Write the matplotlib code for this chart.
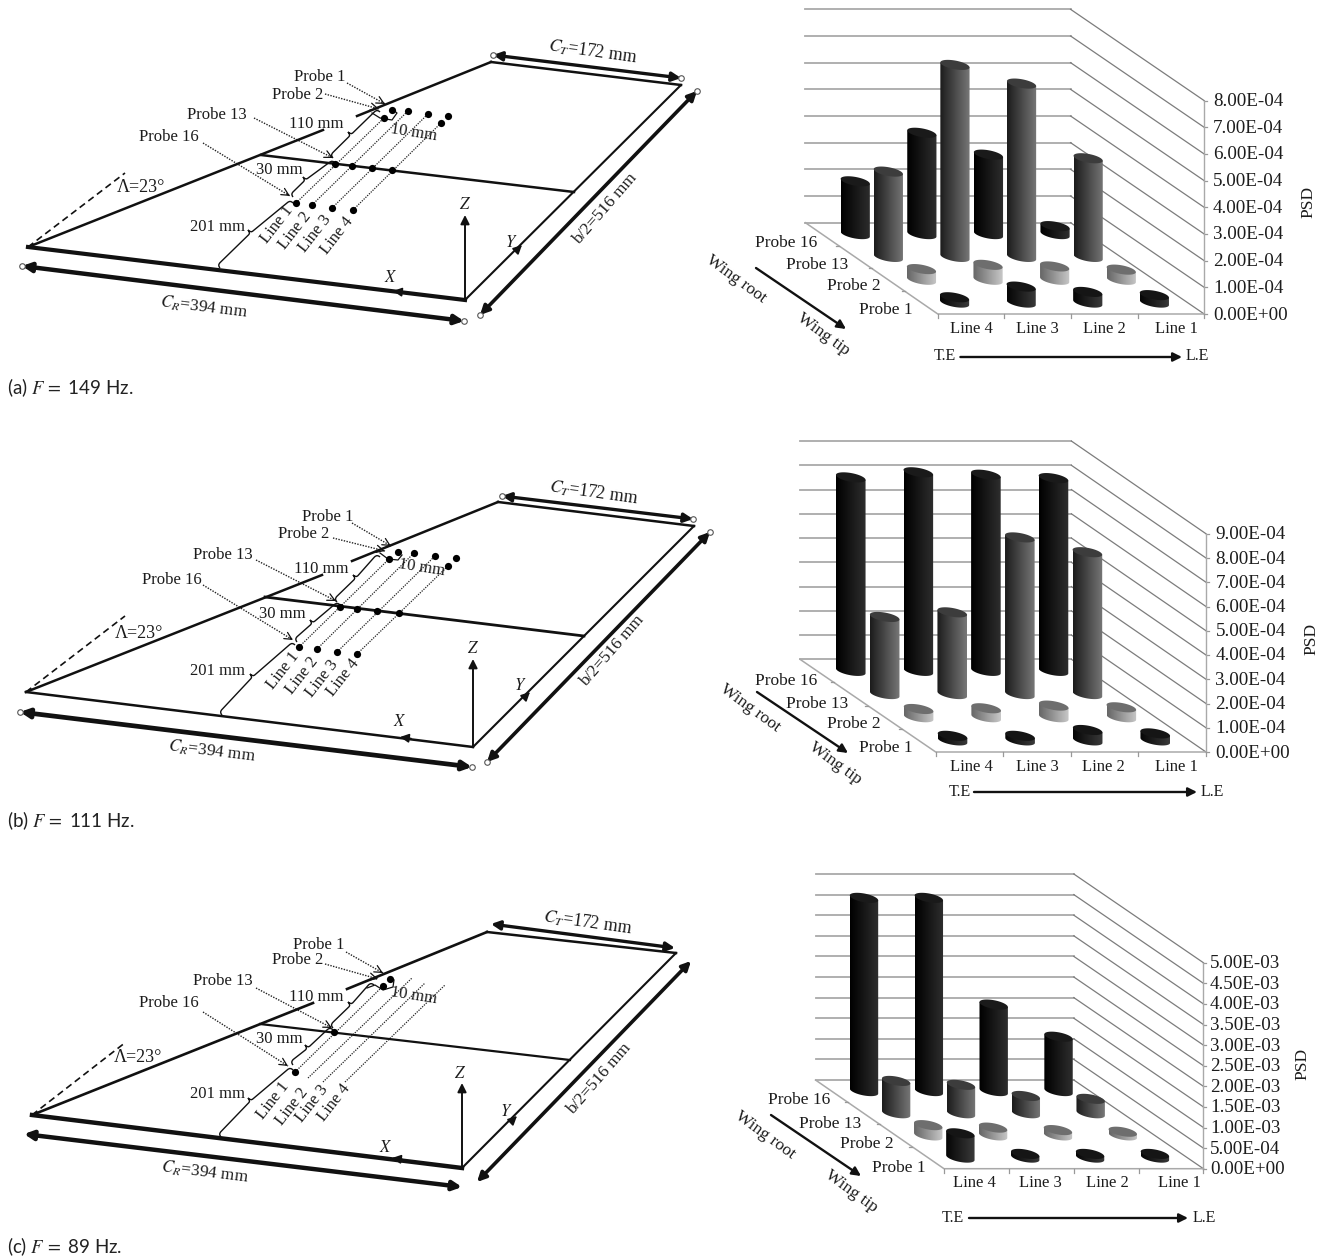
import numpy as np
import matplotlib
matplotlib.use("Agg")
import matplotlib.pyplot as plt
from matplotlib.colors import LinearSegmentedColormap
from matplotlib.patches import Polygon, PathPatch
from matplotlib.path import Path

plt.rcParams['font.family'] = ['Liberation Serif', 'DejaVu Serif']
plt.rcParams['mathtext.fontset'] = 'stix'

# ---------- data ----------
LINE_LABELS = ['Line 4', 'Line 3', 'Line 2', 'Line 1']
PROBE_LABELS = ['Probe 1', 'Probe 2', 'Probe 13', 'Probe 16']

# PSD per probe row; entries follow LINE_LABELS
A_PROBE1 = [2.0e-5, 6.0e-5, 4.0e-5, 2.8e-5]
A_PROBE2 = [4.0e-5, 5.6e-5, 5.0e-5, 3.8e-5]
A_PROBE13 = [3.2e-4, 7.2e-4, 6.5e-4, 3.7e-4]
A_PROBE16 = [1.98e-4, 3.8e-4, 2.98e-4, 3.0e-5]

B_PROBE1 = [1.9e-5, 1.9e-5, 4.3e-5, 2.9e-5]
B_PROBE2 = [3.4e-5, 3.7e-5, 4.8e-5, 4.1e-5]
B_PROBE13 = [3.18e-4, 3.37e-4, 6.46e-4, 5.85e-4]
B_PROBE16 = [7.98e-4, 8.19e-4, 8.09e-4, 7.95e-4]

C_PROBE1 = [5.9e-4, 9.0e-5, 9.0e-5, 9.0e-5]
C_PROBE2 = [2.5e-4, 1.9e-4, 1.3e-4, 9.0e-5]
C_PROBE13 = [7.85e-4, 6.9e-4, 4.2e-4, 3.5e-4]
C_PROBE16 = [4.69e-3, 4.69e-3, 2.1e-3, 1.32e-3]

A_TICKS = ['0.00E+00', '1.00E-04', '2.00E-04', '3.00E-04', '4.00E-04',
           '5.00E-04', '6.00E-04', '7.00E-04', '8.00E-04']
B_TICKS = A_TICKS + ['9.00E-04']
C_TICKS = ['0.00E+00', '5.00E-04', '1.00E-03', '1.50E-03', '2.00E-03', '2.50E-03',
           '3.00E-03', '3.50E-03', '4.00E-03', '4.50E-03', '5.00E-03']

CAPTIONS = [r'(a) $F\,=$ 149 Hz.', r'(b) $F\,=$ 111 Hz.', r'(c) $F\,=$ 89 Hz.']

# ---------- layout of the bar panels (pixels) ----------
BAR_PANELS = [
    dict(vals=[A_PROBE1, A_PROBE2, A_PROBE13, A_PROBE16], ticks=A_TICKS, unit=1e-4,
         FL=(937.8, 314), FR=(1204.2, 314), BL=(805.4, 222.7), BR=(1070.6, 222.7), step=26.67, hw=14.6,
         ticklab_x=1213, probes=[(885.5, 308.7), (854, 285), (817, 264), (786, 241.7)],
         lines_y=328, lines_x=[971.4, 1037, 1104, 1176],
         wing_arrow=((756, 268), (846, 329)), root=(736.6, 278), tip=(823, 333),
         te=(945, 355), le=(1197, 355), te_arrow=((960.4, 357), (1182, 357)), psd=(1308, 201)),
    dict(vals=[B_PROBE1, B_PROBE2, B_PROBE13, B_PROBE16], ticks=B_TICKS, unit=1e-4,
         FL=(935.7, 752), FR=(1206, 752), BL=(800, 659.3), BR=(1071.4, 659.3), step=24.25, hw=14.8,
         ticklab_x=1215.5, probes=[(885.5, 746.7), (854, 723), (817, 702.7), (786, 680)],
         lines_y=766, lines_x=[971, 1037, 1103.7, 1176],
         wing_arrow=((757, 692), (848, 753)), root=(750, 707), tip=(835, 762),
         te=(960, 791), le=(1212, 791), te_arrow=((974, 792), (1197, 792)), psd=(1311, 638)),
    dict(vals=[C_PROBE1, C_PROBE2, C_PROBE13, C_PROBE16], ticks=C_TICKS, unit=5e-4,
         FL=(944, 1168.7), FR=(1203.4, 1168.7), BL=(815.5, 1080), BR=(1073.8, 1080), step=20.6, hw=14.2,
         ticklab_x=1210, probes=[(898.5, 1166.7), (867, 1143.3), (830, 1122.7), (799, 1099)],
         lines_y=1182, lines_x=[974, 1040, 1107, 1179],
         wing_arrow=((771, 1115), (861, 1176)), root=(765, 1134), tip=(851, 1190),
         te=(953, 1217), le=(1204, 1217), te_arrow=((969, 1218), (1188, 1218)), psd=(1302.5, 1063)),
]

ROW_STYLES = [('#050505', '#3a3a3a', '#151515'),
              ('#666666', '#c8c8c8', '#6e6e6e'),
              ('#1c1c1c', '#777777', '#3c3c3c'),
              ('#000000', '#2e2e2e', '#1a1a1a')]

# ---------- layout of the wing schematics (pixels) ----------
WING_PANELS = [
    dict(A=(28, 247), B=(465, 300), C=(491, 62), D=(681, 85), E=(261, 155), F=(574, 192),
         gap=((323, 130), (357, 116)), dash=(125, 173), cr=((22, 266), (464, 321)), ct=((493, 55), (681, 78)),
         bh=((480, 315), (697, 91)), circles=True, yh=(522, 245), yt=(511, 242), xh=(393, 291), xt=(391, 277),
         zh=(465, 215), zt=(465, 204), ctl=(593, 51), crl=(204, 306), bl=(605, 208),
         p=[(320, 76), (298, 94), (217, 114), (169, 136)], d110=(316, 123), d30=(279, 169), d201=(218, 226),
         lam=(141, 187), d10=(414, 132),
         ln=[(277, 224), (295, 230), (315, 233), (337, 235)],
         dots=[(296, 203), (312, 205), (332, 208), (353, 210), (335, 164), (352, 166), (372, 168), (392, 170),
               (384, 118), (441, 123), (392, 110), (408, 111), (428, 114), (448, 116)],
         dotted=[((296, 203), (384, 118)), ((312, 205), (408, 111)), ((332, 208), (428, 114)), ((353, 210), (441, 123))],
         lead=[((347, 83), (385, 104)), ((325, 94), (379, 109)), ((254, 118), (333, 158)), ((203, 143), (290, 196))],
         br=[((220, 268), (248, 230), (293, 203)), ((293, 197), (303, 177), (335, 163)), ((333, 158), (348, 132), (380, 112))],
         small=[(372, 113), (380, 118), (392, 120), (397, 113), (392, 109)],
         lw_root=3.0, lw_cr=3.2, lw_mid=1.8, lw_le=1.8),
    dict(A=(26, 692), B=(473, 747), C=(498, 502), D=(694, 526), E=(265, 597), F=(584, 636),
         gap=((322, 575), (352, 561)), dash=(125, 616), cr=((20, 712), (472, 767)), ct=((502, 496), (693, 519)),
         bh=((487, 762), (710, 532)), circles=True, yh=(530, 692), yt=(520, 685), xh=(400, 737), xt=(400, 721),
         zh=(473, 659), zt=(473, 648), ctl=(594, 492), crl=(212, 750), bl=(612, 650),
         p=[(328, 516), (304, 533), (223, 554), (172, 579)], d110=(321, 568), d30=(282, 613), d201=(218, 670),
         lam=(139, 632), d10=(422, 567),
         ln=[(283, 670), (302, 675), (322, 678), (343, 677)],
         dots=[(299, 647), (317, 649), (337, 652), (357, 654), (340, 607), (357, 609), (377, 611), (399, 613),
               (389, 559), (448, 566), (398, 552), (414, 553), (435, 556), (456, 558)],
         dotted=[((299, 647), (389, 559)), ((317, 649), (414, 553)), ((337, 652), (435, 556)), ((357, 654), (448, 566))],
         lead=[((352, 523), (391, 546)), ((333, 538), (385, 551)), ((256, 560), (336, 601)), ((203, 585), (293, 640))],
         br=[((222, 715), (250, 674), (295, 645)), ((297, 642), (310, 620), (340, 605)), ((337, 602), (353, 575), (380, 557))],
         small=[(380, 553), (388, 559), (398, 560), (402, 555)],
         lw_root=1.8, lw_cr=3.4, lw_mid=2.0, lw_le=1.8),
    dict(A=(32, 1115), B=(462, 1168), C=(487, 932), D=(676, 953), E=(260, 1024), F=(570, 1060),
         gap=((313, 1003), (347, 989)), dash=(126, 1042), cr=((24, 1134), (462, 1187)), ct=((491, 924), (675, 948)),
         bh=((477, 1182), (691, 961)), circles=False, yh=(517, 1116), yt=(506, 1111), xh=(392, 1158), xt=(386, 1147),
         zh=(462, 1083), zt=(460, 1073), ctl=(588, 922), crl=(205, 1171), bl=(599, 1078),
         p=[(319, 944), (298, 959), (223, 980), (169, 1002)], d110=(316, 996), d30=(279, 1038), d201=(218, 1093),
         lam=(138, 1056), d10=(414, 995),
         ln=[(273, 1100), (292, 1106), (312, 1103), (334, 1102)],
         dots=[(295, 1072), (334, 1032), (390, 979), (383, 986)],
         dotted=[((295, 1072), (383, 986)), ((308, 1078), (412, 978)), ((323, 1082), (425, 983)), ((345, 1082), (445, 985))],
         lead=[((346, 952), (383, 973)), ((325, 964), (378, 979)), ((256, 988), (332, 1028)), ((203, 1012), (288, 1066))],
         br=[((221, 1137), (248, 1098), (293, 1070)), ((293, 1065), (305, 1045), (333, 1030)), ((333, 1028), (348, 1002), (374, 985))],
         small=[(367, 988), (375, 985), (383, 990), (393, 987), (394, 980)],
         lw_root=3.2, lw_cr=3.2, lw_mid=1.6, lw_le=1.9),
]
CAPTION_Y = [388, 821, 1247]

# ---------- drawing ----------
fig = plt.figure(figsize=(13.25, 12.6), dpi=100)
ax = fig.add_axes([0, 0, 1, 1])
INK = '#111111'
TXT = '#1c1c1c'


def arrow(p0, p1, style='-|>', lw=1.5, ms=12, z=6):
    ax.annotate('', xy=p1, xytext=p0, zorder=z,
                arrowprops=dict(arrowstyle=style, lw=lw, color=INK, mutation_scale=ms,
                                shrinkA=0, shrinkB=0))


def label(xy, s, size=12, rot=0, ha='center', color=TXT):
    ax.text(xy[0], xy[1] + 1, s, fontsize=size, rotation=rot, ha=ha, va='center',
            rotation_mode='anchor', color=color, zorder=20)


def cylinder(cx, base, top, hw, style, z):
    b, s = 4.4, 2.5
    left, right, top_col = style
    t = np.linspace(np.pi, 0, 40)
    low = np.c_[cx + hw * np.cos(t), base + s * np.cos(t) + b * np.sin(t)]
    body = np.vstack([[(cx - hw, top - s)], low, [(cx + hw, top + s)]])
    cmap = LinearSegmentedColormap.from_list('c', [left, right])
    im = ax.imshow(np.linspace(0, 1, 64)[None, :], extent=(cx - hw, cx + hw, base + 8, top - 8),
                   aspect='auto', cmap=cmap, zorder=z, interpolation='bilinear')
    im.set_clip_path(Polygon(body, closed=True, transform=ax.transData))
    tt = np.linspace(0, 2 * np.pi, 60)
    ell = np.c_[cx + hw * np.cos(tt), top + s * np.cos(tt) + b * np.sin(tt)]
    ax.add_patch(Polygon(ell, closed=True, fc=top_col, ec='none', zorder=z + 0.1))


def bar_panel(cfg):
    FL, FR, BL, BR = (np.array(cfg[k], float) for k in ('FL', 'FR', 'BL', 'BR'))
    step = cfg['step']
    n = len(cfg['ticks'])
    for k in range(n):
        off = np.array([0, -k * step])
        ax.plot([BL[0], BR[0]], [BL[1] + off[1]] * 2, color='#a9a9a9', lw=1.3, zorder=1)
        ax.plot([BR[0], FR[0]], [BR[1] + off[1], FR[1] + off[1]], color='#7c7c7c', lw=0.9, zorder=1)
        ax.plot([FR[0], FR[0] + 3], [FR[1] + off[1]] * 2, color='#999999', lw=0.9, zorder=1)
        label((cfg['ticklab_x'], FR[1] + off[1]), cfg['ticks'][k], size=13.7, ha='left')
    ax.plot([FR[0], FR[0]], [FR[1], FR[1] - (n - 1) * step], color='#a9a9a9', lw=1.0, zorder=1)
    ax.plot([BL[0], FL[0], FR[0]], [BL[1], FL[1], FR[1]], color='#a9a9a9', lw=1.1, zorder=1)
    for i in range(5):
        P = FL + (FR - FL) * i / 4
        ax.plot([P[0], P[0]], [P[1], P[1] + 4], color='#999999', lw=0.9, zorder=1)
    for j in range(1, 4):
        P = FL + (BL - FL) * j / 4
        ax.plot([P[0], P[0] - 3], [P[1], P[1]], color='#999999', lw=0.9, zorder=1)
    z = 2
    for j in (3, 2, 1, 0):
        for i in range(4):
            c = FL + (FR - FL) * (i + .5) / 4 + (BL - FL) * (j + .5) / 4
            top = c[1] - cfg['vals'][j][i] / cfg['unit'] * step
            cylinder(c[0], c[1], top, cfg['hw'], ROW_STYLES[j], z)
            z += 0.2
    for xy, s in zip(cfg['probes'], PROBE_LABELS):
        label(xy, s, size=12.5)
    for x, s in zip(cfg['lines_x'], LINE_LABELS):
        label((x, cfg['lines_y']), s, size=12)
    arrow(*cfg['wing_arrow'], lw=1.7, ms=13)
    label(cfg['root'], 'Wing root', size=12.5, rot=-36)
    label(cfg['tip'], 'Wing tip', size=12.5, rot=-36)
    label(cfg['te'], 'T.E', size=11.5)
    label(cfg['le'], 'L.E', size=11.5)
    arrow(*cfg['te_arrow'], lw=1.7, ms=13)
    label(cfg['psd'], 'PSD', size=12.5, rot=90)


def brace(s, t, e, lw=1.0):
    s, t, e = (np.array(p, float) for p in (s, t, e))
    u = (e - s) / np.linalg.norm(e - s)
    n = np.array([u[1], -u[0]])
    d = 4.0
    sp = t - n * d
    verts = [s, s + n * d, s + n * d + u * 4, sp - u * 3, sp, t, sp, sp + u * 3,
             e + n * d - u * 4, e + n * d, e]
    codes = [Path.MOVETO, Path.CURVE3, Path.CURVE3, Path.LINETO, Path.CURVE3, Path.CURVE3,
             Path.CURVE3, Path.CURVE3, Path.LINETO, Path.CURVE3, Path.CURVE3]
    ax.add_patch(PathPatch(Path(verts, codes), fc='none', ec=INK, lw=lw, zorder=5))


def toward(p0, p1, frac=0.03):
    p0, p1 = np.array(p0, float), np.array(p1, float)
    return tuple(p1 - (p1 - p0) * frac)


def wing_panel(c):
    A, B, C, D, E, F = c['A'], c['B'], c['C'], c['D'], c['E'], c['F']
    g0, g1 = c['gap']
    ax.plot([A[0], g0[0]], [A[1], g0[1]], color=INK, lw=c['lw_le'], zorder=4)
    ax.plot([g1[0], C[0]], [g1[1], C[1]], color=INK, lw=c['lw_le'], zorder=4)
    ax.plot([A[0], B[0]], [A[1], B[1]], color=INK, lw=c['lw_root'], zorder=4)
    ax.plot([B[0], D[0]], [B[1], D[1]], color=INK, lw=1.5, zorder=4)
    ax.plot([C[0], D[0]], [C[1], D[1]], color=INK, lw=1.8, zorder=4)
    ax.plot([E[0], F[0]], [E[1], F[1]], color=INK, lw=c['lw_mid'], zorder=4)
    ax.plot([A[0], c['dash'][0]], [A[1], c['dash'][1]], color=INK, lw=1.2, ls=(0, (4, 2.5)), zorder=4)
    arrow(*c['cr'], style='<|-|>', lw=c['lw_cr'], ms=13)
    arrow(*c['ct'], style='<|-|>', lw=2.4, ms=13)
    arrow(*c['bh'], style='<|-|>', lw=2.6, ms=13)
    if c['circles']:
        for seg in (c['cr'], c['ct'], c['bh']):
            for p in seg:
                ax.plot(*p, 'o', ms=4, mfc='white', mec='#555555', mew=0.8, zorder=7)
    arrow(B, c['zh'], lw=1.4, ms=13)
    arrow(toward(B, c['yh'], 0.1), c['yh'], lw=1.2, ms=13)
    arrow(toward(B, c['xh'], 0.15), c['xh'], lw=1.2, ms=13)
    for (p0, p1) in c['dotted']:
        ax.plot([p0[0], p1[0]], [p0[1], p1[1]], color='#222222', lw=0.9, ls=(0, (1, 1)), zorder=3)
    for (p0, p1) in c['lead']:
        ax.plot([p0[0], p1[0]], [p0[1], p1[1]], color='#222222', lw=1.0, ls=(0, (1, 1)), zorder=3)
        arrow(toward(p0, p1), p1, style='->', lw=0.9, ms=13, z=5)
    for b in c['br']:
        brace(*b)
    sm = np.array(c['small'])
    ax.plot(sm[:, 0], sm[:, 1], color=INK, lw=0.9, zorder=5)
    d = np.array(c['dots'])
    ax.plot(d[:, 0], d[:, 1], 'o', ms=5.2, color='black', mec='none', zorder=8)
    for xy, s in zip(c['p'], PROBE_LABELS):
        label(xy, s)
    label(c['d110'], '110 mm')
    label(c['d30'], '30 mm')
    label(c['d201'], '201 mm')
    label(c['d10'], '10 mm', rot=-9)
    label(c['lam'], 'Λ=23°', size=13)
    for k, xy in enumerate(c['ln']):
        label(xy, f'Line {k + 1}', rot=52)
    label(c['ctl'], r'$C_T$=172 mm', size=12.8, rot=-8)
    label(c['crl'], r'$C_R$=394 mm', size=12.4, rot=-7)
    label(c['bl'], 'b/2=516 mm', size=12.4, rot=49)
    label(c['xt'], '$X$')
    label(c['yt'], '$Y$')
    label(c['zt'], '$Z$')


for cfg in BAR_PANELS:
    bar_panel(cfg)
for cfg in WING_PANELS:
    wing_panel(cfg)
for y, s in zip(CAPTION_Y, CAPTIONS):
    ax.text(7, y, s, fontsize=13.5, family=['Lato', 'DejaVu Sans'], ha='left', va='center', color='#222222')

ax.set_xlim(0, 1325)
ax.set_ylim(1260, 0)
ax.axis('off')
fig.savefig('out.png', dpi=100, facecolor='white')
